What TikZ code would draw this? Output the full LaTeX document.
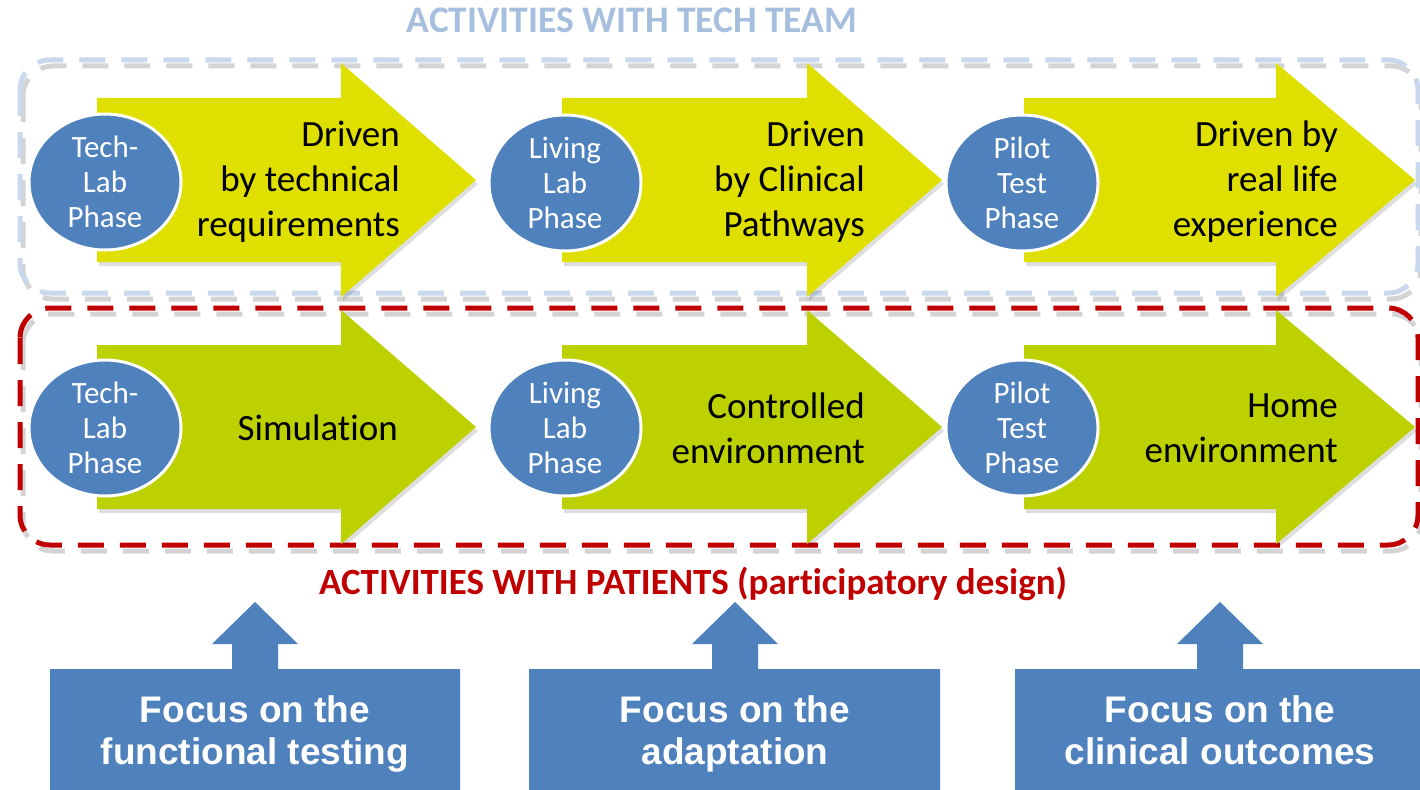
\documentclass[tikz,border=0pt]{standalone}
\usepackage{fontspec}
\setmainfont{Carlito}[Ligatures=NoCommon]
\newfontfamily\arialfont{Liberation Sans}
\usetikzlibrary{shapes.geometric}
\definecolor{ylw}{HTML}{DFDF00}
\definecolor{grn}{HTML}{BDD000}
\definecolor{blu}{HTML}{4F81BD}
\definecolor{lblue}{HTML}{C9D8EC}
\definecolor{ttl}{HTML}{A7BFDE}
\definecolor{dred}{HTML}{C00000}
\newcommand\phasearrow[5]{%
  \fill[black,opacity=0.13] ({#2+2},{#5-82+4}) -- ({#3+2},{#5-82+4}) -- ({#3+2},{#5-117+4}) -- ({#4+2},{#5+4}) -- ({#3+2},{#5+117+4}) -- ({#3+2},{#5+82+4}) -- ({#2+2},{#5+82+4}) -- cycle;
  \fill[#1] ({#2},{#5-82}) -- ({#3},{#5-82}) -- ({#3},{#5-117}) -- ({#4},{#5}) -- ({#3},{#5+117}) -- ({#3},{#5+82}) -- ({#2},{#5+82}) -- cycle;}
\newcommand\focusshape[3]{%
  \fill[blu] ({#1},669) -- ({#3-23},669) -- ({#3-23},644) -- ({#3-43},644) -- ({#3},602) -- ({#3+43},644) -- ({#3+23},644) -- ({#3+23},669) -- ({#2},669) -- ({#2},800) -- ({#1},800) -- cycle;}
\begin{document}
\begin{tikzpicture}[x=1pt,y=-1pt,
  phase/.style={ellipse, fill=blu, draw=white, line width=3pt, minimum width=152pt, minimum height=136pt, inner sep=0pt, text=white, font=\fontsize{31}{35}\selectfont, align=center},
  desc/.style={anchor=east, align=right, inner sep=0pt, font=\fontsize{37}{45}\selectfont},
  focus/.style={text=white, font=\arialfont\bfseries\fontsize{37}{42}\selectfont, align=center, inner sep=0pt},
  dbox/.style={rounded corners=30pt, line width=5pt, dash pattern=on 26pt off 16pt},
  dshadow/.style={dbox, draw=gray!60, opacity=0.55},
]
\useasboundingbox (0,0) rectangle (1420,789);
\fill[white] (0,0) rectangle (1420,789);

% dashed group boxes
\draw[dshadow] (23,66) rectangle (1421,299);
\draw[dbox, draw=lblue] (20,60) rectangle (1418,293);
\draw[dshadow] (23,314) rectangle (1421,551);
\draw[dbox, draw=dred] (20,308) rectangle (1418,545);

% top row arrows
\phasearrow{ylw}{97}{341}{476}{180}
\phasearrow{ylw}{562}{807}{942}{180}
\phasearrow{ylw}{1024}{1276}{1415}{180}
% bottom row arrows
\phasearrow{grn}{97}{341}{476}{427}
\phasearrow{grn}{562}{807}{942}{427}
\phasearrow{grn}{1024}{1276}{1415}{427}

% arrow texts
\node[desc] (dt1) at (400,182) {Driven\\by technical\\requirements};
\node[desc] (dt2) at (865,182) {Driven\\by Clinical\\Pathways};
\node[desc] (dt3) at (1338,182) {Driven by\\real life\\experience};
\node[desc] (db1) at (398,428) {Simulation};
\node[desc] (db2) at (865,428) {Controlled\\environment};
\node[desc] (db3) at (1338,428) {Home\\environment};

% phase ellipses
\node[phase] (t1) at (105,182) {Tech-\\Lab\\Phase};
\node[phase] (t2) at (565,183) {Living\\Lab\\Phase};
\node[phase] (t3) at (1022,183) {Pilot\\Test\\Phase};
\node[phase] (b1) at (105,428) {Tech-\\Lab\\Phase};
\node[phase] (b2) at (565,428) {Living\\Lab\\Phase};
\node[phase] (b3) at (1022,428) {Pilot\\Test\\Phase};

% titles
\node[anchor=base, inner sep=0pt, text=ttl, font=\bfseries\fontsize{37.5}{40}\selectfont] (tech) at (632,33) {ACTIVITIES WITH TECH TEAM};
\node[anchor=base, inner sep=0pt, text=dred, font=\bfseries\fontsize{37}{40}\selectfont] (pat) at (693,594) {ACTIVITIES WITH PATIENTS (participatory design)};

% focus boxes
\focusshape{50}{460}{255}
\focusshape{529}{940}{735}
\focusshape{1015}{1430}{1220}
\node[focus] (f1) at (255,734) {Focus on the\\functional testing};
\node[focus] (f2) at (735,734) {Focus on the\\adaptation};
\node[focus] (f3) at (1220,734) {Focus on the\\clinical outcomes\vphantom{g}};
\end{tikzpicture}
\end{document}
